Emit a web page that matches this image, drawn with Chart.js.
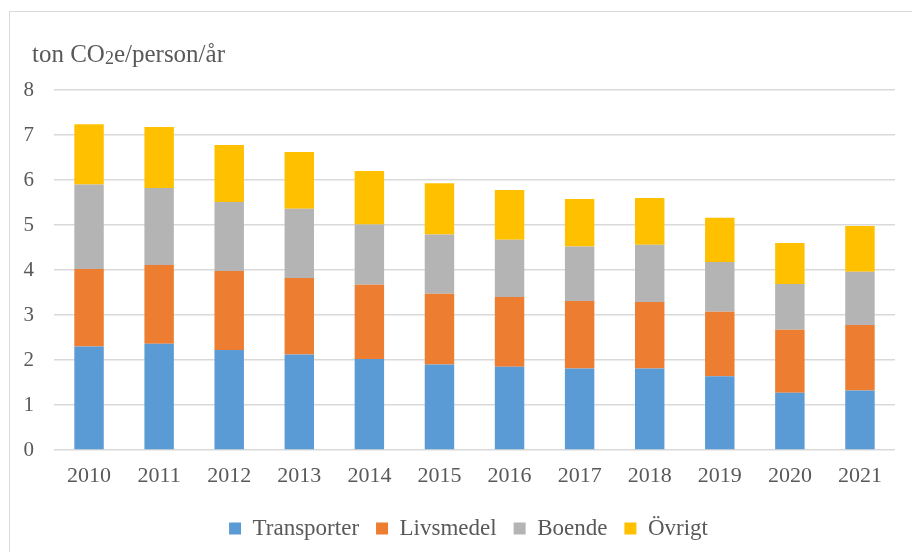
<!DOCTYPE html>
<html>
<head>
<meta charset="utf-8">
<script src="https://cdn.jsdelivr.net/npm/chart.js"></script>
<style>
  html, body { margin: 0; padding: 0; background: #fff; }
  #wrap { position: relative; width: 912px; height: 552px; }
  #frame { position: absolute; left: 9px; top: 11px; width: 1000px; height: 1000px; border: 1px solid #d9d9d9; box-sizing: border-box; }
</style>
</head>
<body>
<div id="wrap">
  <div id="frame"></div>
  <canvas id="myChart" width="912" height="552"></canvas>
</div>
<script>
const years = ['2010', '2011', '2012', '2013', '2014', '2015', '2016', '2017', '2018', '2019', '2020', '2021'];
const transporter = [2.30, 2.36, 2.22, 2.12, 2.02, 1.90, 1.85, 1.81, 1.81, 1.64, 1.27, 1.32];
const livsmedel = [1.72, 1.75, 1.76, 1.70, 1.65, 1.57, 1.55, 1.50, 1.48, 1.43, 1.40, 1.46];
const boende = [1.88, 1.71, 1.53, 1.54, 1.34, 1.32, 1.27, 1.21, 1.27, 1.11, 1.02, 1.18];
const ovrigt = [1.34, 1.36, 1.27, 1.26, 1.19, 1.14, 1.11, 1.06, 1.04, 0.98, 0.91, 1.02];
const yTicks = [0, 1, 2, 3, 4, 5, 6, 7, 8];
// unit text in three parts so the "2" can be drawn as a subscript
const unitParts = ['ton CO', '2', 'e/person/år'];

const font = "'Liberation Serif', 'Times New Roman', serif";
const textColor = '#595959';

// axis title drawn in the top left corner
const unitTitle = {
  id: 'unitTitle',
  afterDraw(chart) {
    const ctx = chart.ctx;
    ctx.save();
    ctx.fillStyle = textColor;
    ctx.textBaseline = 'alphabetic';
    let x = 32;
    const y = 62;
    ctx.font = '25px ' + font;
    ctx.fillText(unitParts[0], x, y);
    x += ctx.measureText(unitParts[0]).width;
    ctx.font = '18px ' + font;
    ctx.fillText(unitParts[1], x, y + 2);
    x += ctx.measureText(unitParts[1]).width;
    ctx.font = '25px ' + font;
    ctx.fillText(unitParts[2], x, y);
    ctx.restore();
  }
};

// the legend in the reference sits a little right of centre
const legendShift = {
  id: 'legendShift',
  afterLayout(chart) {
    chart.legend.left += 10;
    chart.legend.right += 10;
  }
};

function series(label, values, color) {
  return {
    label: label,
    data: values,
    backgroundColor: color,
    borderWidth: 0,
    categoryPercentage: 1,
    barPercentage: 0.42
  };
}

const data = {
  labels: years,
  datasets: [
    series('Transporter', transporter, '#5B9BD5'),
    series('Livsmedel', livsmedel, '#ED7D31'),
    series('Boende', boende, '#B4B4B4'),
    series('Övrigt', ovrigt, '#FFC000')
  ]
};

const config = {
  type: 'bar',
  data: data,
  options: {
    responsive: false,
    animation: false,
    layout: {
      padding: { left: 22, right: 17, top: 90, bottom: 2 }
    },
    scales: {
      x: {
        stacked: true,
        grid: { display: false },
        border: { display: false },
        ticks: { color: textColor, font: { family: font, size: 22 }, padding: 5 },
        afterFit(scale) { scale.height = 50; }
      },
      y: {
        stacked: true,
        min: 0,
        max: 8,
        afterBuildTicks(scale) { scale.ticks = yTicks.map(v => ({ value: v })); },
        grid: { color: '#D9D9D9', lineWidth: 1.5, drawTicks: false },
        border: { display: false },
        ticks: { color: textColor, font: { family: font, size: 21 }, padding: 20 },
        afterFit(scale) { scale.width = 32; }
      }
    },
    plugins: {
      legend: {
        position: 'bottom',
        labels: {
          color: textColor,
          font: { family: font, size: 23 },
          boxWidth: 12,
          boxHeight: 12,
          padding: 17
        }
      },
      tooltip: { enabled: false }
    }
  },
  plugins: [unitTitle, legendShift]
};

const myChart = new Chart(document.getElementById('myChart'), config);
</script>
</body>
</html>
